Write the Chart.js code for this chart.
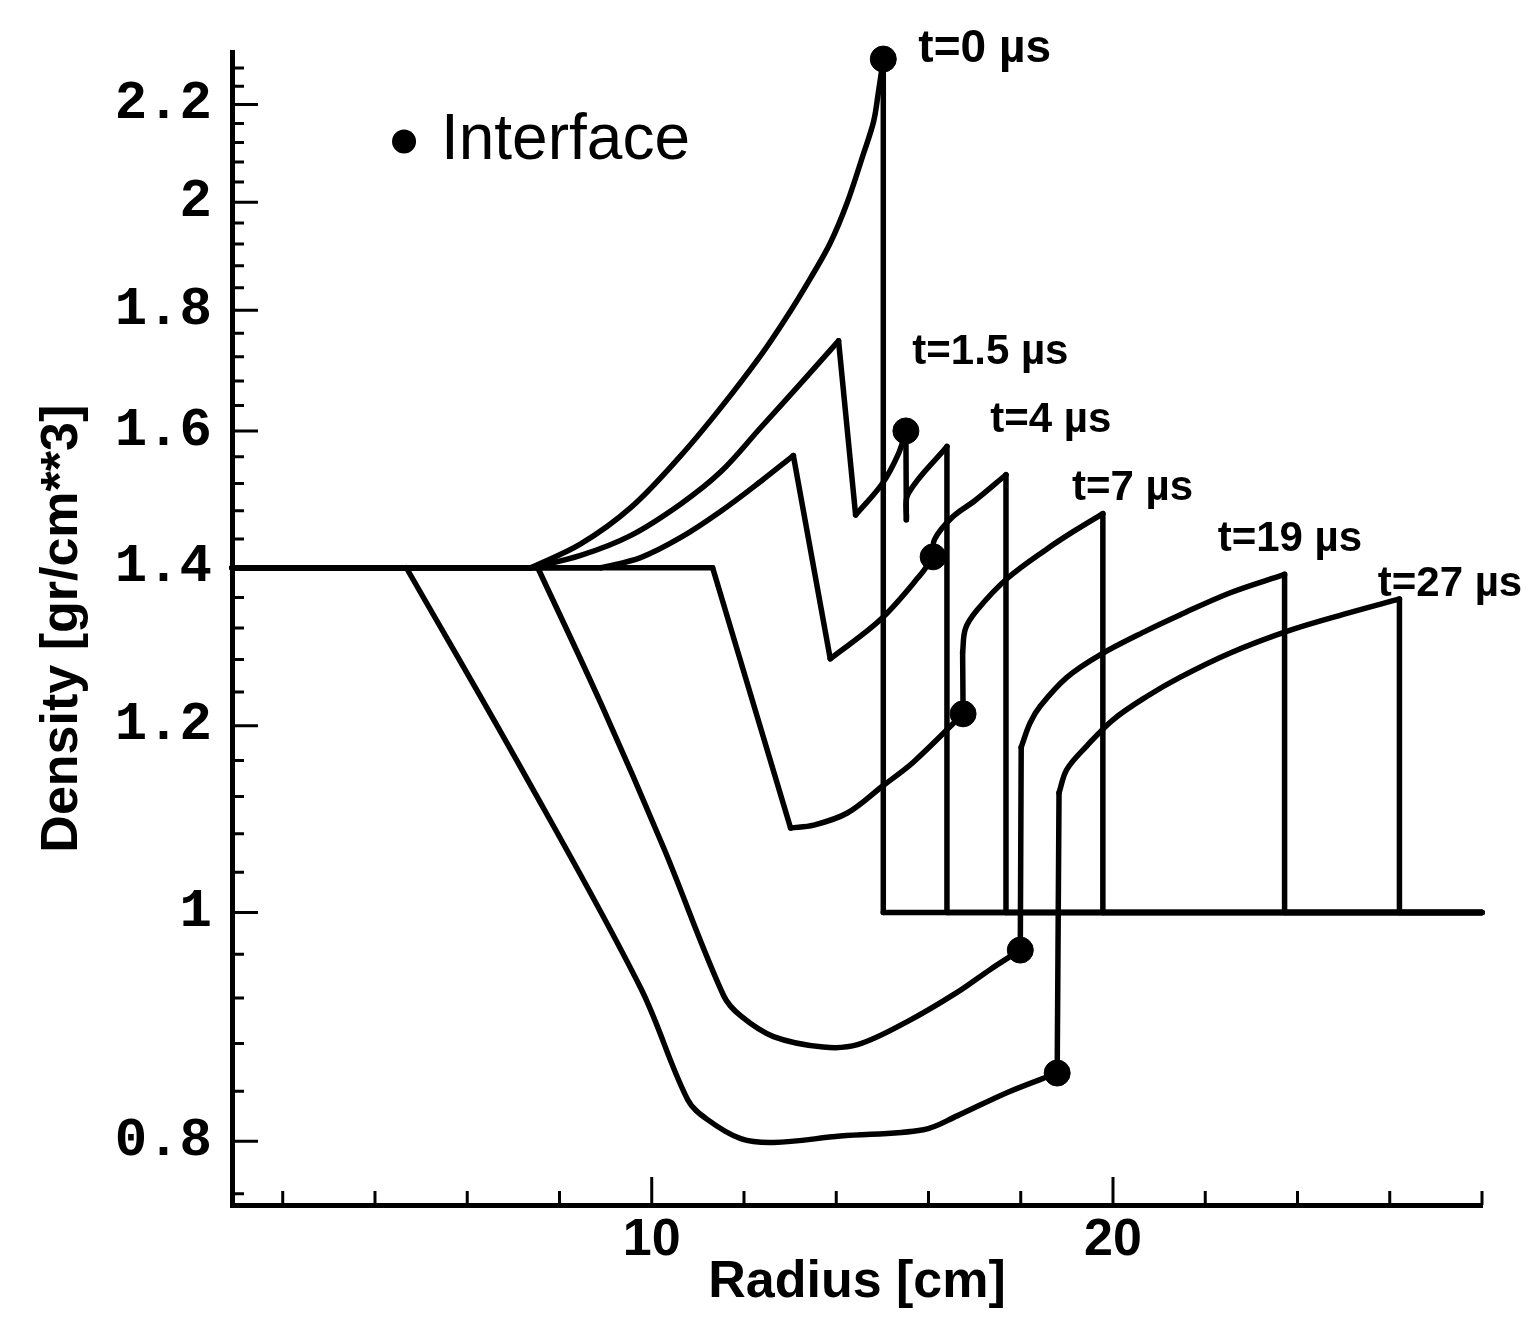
<!DOCTYPE html>
<html lang="en">
<head>
<meta charset="UTF-8">
<title>Density profiles</title>
<script src="https://cdn.jsdelivr.net/npm/chart.js@4.4.1/dist/chart.umd.min.js"></script>
<style>
  body { margin: 0; background: #fff; }
</style>
</head>
<body>
<canvas id="density" width="1532" height="1323"></canvas>
<script>
// profile times
const times = ['t=0 µs', 't=1.5 µs', 't=4 µs', 't=7 µs', 't=19 µs', 't=27 µs'];

// radius [cm] and density [gr/cm**3] along each profile
const r0   = [0.9, 7.38, 8.46, 9.55, 10.63, 11.49, 12.36, 12.90, 13.44, 13.87, 14.24, 14.59, 14.81, 14.91, 15.02, 15.02, 28];
const rho0 = [1.4, 1.4, 1.433, 1.485, 1.562, 1.636, 1.722, 1.785, 1.857, 1.922, 2.0, 2.097, 2.164, 2.224, 2.30, 1.0, 1.0];

const r1   = [0.9, 7.38, 8.46, 9.55, 10.63, 11.49, 12.36, 13.23, 14.05, 14.42, 15.0, 15.35, 15.51, 15.52, 15.56, 16.40, 16.40, 28];
const rho1 = [1.4, 1.4, 1.417, 1.445, 1.490, 1.537, 1.605, 1.676, 1.747, 1.474, 1.520, 1.565, 1.600, 1.467, 1.505, 1.576, 1.0, 1.0];

const r4   = [0.9, 8.9, 9.76, 10.63, 11.49, 12.36, 13.07, 13.87, 14.96, 15.82, 16.10, 16.13, 16.52, 17.01, 17.68, 17.68, 28];
const rho4 = [1.4, 1.4, 1.414, 1.442, 1.479, 1.523, 1.562, 1.281, 1.331, 1.390, 1.415, 1.439, 1.471, 1.495, 1.533, 1.0, 1.0];

const r7   = [0.9, 11.32, 13.01, 13.51, 14.24, 15.02, 15.67, 16.75, 16.74, 16.80, 17.05, 17.70, 18.57, 19.18, 19.78, 19.78, 28];
const rho7 = [1.4, 1.4, 1.086, 1.089, 1.102, 1.132, 1.158, 1.214, 1.289, 1.319, 1.343, 1.385, 1.426, 1.452, 1.476, 1.0, 1.0];

const r19   = [0.9, 7.53, 8.90, 10.26, 11.56, 11.93, 12.64, 13.72, 14.46, 15.54, 16.62, 17.34, 17.99, 18.01, 18.20, 18.42, 19.00, 19.72, 20.74, 21.45, 22.53, 23.72, 23.72, 28];
const rho19 = [1.4, 1.4, 1.226, 1.065, 0.922, 0.904, 0.886, 0.877, 0.879, 0.899, 0.925, 0.946, 0.964, 1.175, 1.203, 1.223, 1.258, 1.286, 1.317, 1.337, 1.366, 1.391, 1.0, 1.0];

const r27   = [0.9, 4.68, 7.17, 9.76, 10.78, 11.21, 11.93, 12.64, 14.09, 15.89, 16.62, 17.71, 18.79, 18.83, 19.00, 19.44, 20.00, 20.74, 21.45, 22.53, 23.83, 25.13, 26.21, 26.21, 28];
const rho27 = [1.4, 1.4, 1.151, 0.929, 0.833, 0.817, 0.802, 0.799, 0.804, 0.809, 0.820, 0.839, 0.855, 1.124, 1.150, 1.177, 1.207, 1.235, 1.258, 1.288, 1.317, 1.340, 1.358, 1.0, 1.0];

// indices where a profile has a corner (shock, interface jump, kink)
const corners0  = [1, 14, 15];
const corners1  = [1, 8, 9, 12, 13, 15, 16];
const corners4  = [1, 6, 7, 10, 14, 15];
const corners7  = [1, 2, 7, 8, 14, 15];
const corners19 = [1, 12, 13, 21, 22];
const corners27 = [1, 12, 13, 22, 23];

// interface position at each time
const ifaceR   = [15.02, 15.51, 16.10, 16.75, 17.99, 18.79];
const ifaceRho = [2.30, 1.600, 1.415, 1.214, 0.964, 0.855];

// axis ticks
const xTicks = [10, 20];
const yTicks = [0.8, 1, 1.2, 1.4, 1.6, 1.8, 2, 2.2];

// where each time label sits (radius, density), and its font size
const labelAt = [
  [15.78, 2.322, 46],
  [15.65, 1.727, 42],
  [17.34, 1.617, 42],
  [19.11, 1.512, 42],
  [22.27, 1.439, 42],
  [25.74, 1.378, 42]
];

const profiles = [
  [r0, rho0, corners0], [r1, rho1, corners1], [r4, rho4, corners4],
  [r7, rho7, corners7], [r19, rho19, corners19], [r27, rho27, corners27]
];

// each profile is split at its corners; smooth stretches are drawn as splines
const datasets = [];
profiles.forEach(([rs, ys, cuts], p) => {
  const bounds = [0, ...cuts, rs.length - 1];
  for (let k = 0; k < bounds.length - 1; k++) {
    const pts = [];
    for (let i = bounds[k]; i <= bounds[k + 1]; i++) pts.push({ x: rs[i], y: ys[i] });
    datasets.push({
      label: times[p],
      data: pts,
      showLine: true,
      borderColor: '#000',
      borderWidth: 5.5,
      borderJoinStyle: 'round',
      borderCapStyle: 'round',
      pointRadius: 0,
      tension: pts.length > 2 ? 0.35 : 0,
      clip: false
    });
  }
});

datasets.push({
  label: 'Interface',
  data: ifaceR.map((r, i) => ({ x: r, y: ifaceRho[i] })),
  showLine: false,
  pointRadius: 13,
  pointBackgroundColor: '#000',
  pointBorderColor: '#000',
  clip: false
});

// minor ticks every 0.04 on density, every 2 cm on radius
const yMinor = [];
for (let k = 19; k <= 57; k++) if (k % 5 !== 0) yMinor.push(k * 0.04);
const xMinor = [];
for (let v = 2; v <= 28; v += 2) if (!xTicks.includes(v)) xMinor.push(v);

// tick marks point into the plot
const inwardTicks = {
  id: 'inwardTicks',
  afterDraw(chart) {
    const { ctx, chartArea: a, scales: { x, y } } = chart;
    ctx.save();
    ctx.strokeStyle = '#000';
    ctx.lineWidth = 3;
    ctx.beginPath();
    yMinor.forEach(v => { const p = y.getPixelForValue(v); ctx.moveTo(a.left, p); ctx.lineTo(a.left + 12, p); });
    yTicks.forEach(v => { const p = y.getPixelForValue(v); ctx.moveTo(a.left, p); ctx.lineTo(a.left + 26, p); });
    xMinor.forEach(v => { const p = x.getPixelForValue(v); ctx.moveTo(p, a.bottom); ctx.lineTo(p, a.bottom - 14); });
    xTicks.forEach(v => { const p = x.getPixelForValue(v); ctx.moveTo(p, a.bottom); ctx.lineTo(p, a.bottom - 28); });
    ctx.stroke();
    ctx.restore();
  }
};

// time labels and the "Interface" key
const annotations = {
  id: 'annotations',
  afterDraw(chart) {
    const { ctx, scales: { x, y } } = chart;
    ctx.save();
    ctx.fillStyle = '#000';
    ctx.textAlign = 'left';
    ctx.textBaseline = 'middle';
    labelAt.forEach(([r, d, size], i) => {
      ctx.font = 'bold ' + size + 'px "Liberation Sans", Arial, sans-serif';
      ctx.fillText(times[i], x.getPixelForValue(r), y.getPixelForValue(d));
    });
    const kx = x.getPixelForValue(4.63), ky = y.getPixelForValue(2.122);
    ctx.beginPath();
    ctx.arc(kx, ky, 12, 0, Math.PI * 2);
    ctx.fill();
    ctx.font = '64px "Liberation Sans", Arial, sans-serif';
    ctx.fillText('Interface', x.getPixelForValue(5.43), ky);
    ctx.restore();
  }
};

new Chart(document.getElementById('density'), {
  type: 'scatter',
  data: { datasets },
  options: {
    responsive: false,
    animation: false,
    layout: { padding: { top: 51, right: 50, left: 0, bottom: 0 } },
    plugins: { legend: { display: false }, tooltip: { enabled: false } },
    scales: {
      x: {
        type: 'linear',
        min: 0.9,
        max: 28,
        afterBuildTicks: s => { s.ticks = xTicks.map(v => ({ value: v })); },
        afterFit: s => { s.height = 118; },
        grid: { display: false, drawTicks: false },
        border: { display: true, color: '#000', width: 5 },
        ticks: {
          color: '#000',
          padding: 4,
          font: { family: '"Liberation Sans", Arial, sans-serif', size: 52, weight: 'bold' },
          callback: v => String(v)
        },
        title: {
          display: true,
          text: 'Radius [cm]',
          color: '#000',
          padding: { top: 0, bottom: 9 },
          font: { family: '"Liberation Sans", Arial, sans-serif', size: 52, weight: 'bold' }
        }
      },
      y: {
        type: 'logarithmic',
        min: 0.7517,
        max: 2.315,
        afterBuildTicks: s => { s.ticks = yTicks.map(v => ({ value: v })); },
        afterFit: s => { s.width = 232; },
        grid: { display: false, drawTicks: false },
        border: { display: true, color: '#000', width: 5 },
        ticks: {
          color: '#000',
          padding: 20,
          font: { family: '"Liberation Mono", monospace', size: 54, weight: 'bold' },
          callback: v => String(v)
        },
        title: {
          display: true,
          text: 'Density [gr/cm**3]',
          color: '#000',
          padding: { top: 31, bottom: 0 },
          font: { family: '"Liberation Sans", Arial, sans-serif', size: 52, weight: 'bold' }
        }
      }
    }
  },
  plugins: [inwardTicks, annotations]
});
</script>
</body>
</html>
